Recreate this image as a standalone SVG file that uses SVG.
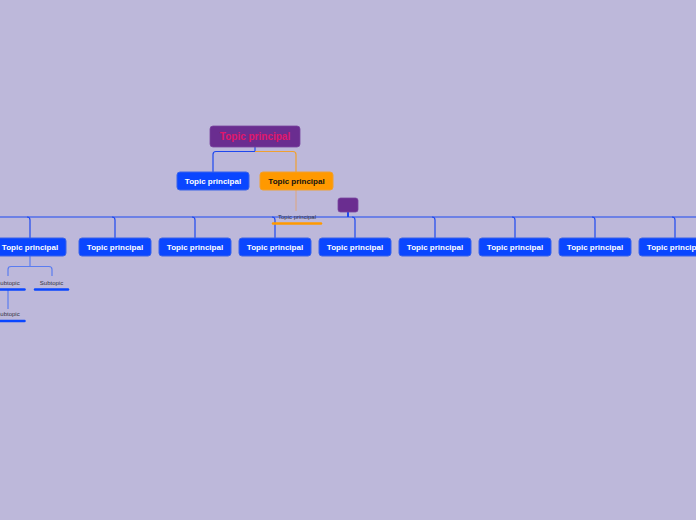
<svg xmlns="http://www.w3.org/2000/svg" width="696" height="520" viewBox="0 0 696 520">
<style>
.t{font-family:"Liberation Sans",Arial,sans-serif;font-weight:bold;font-size:8px;text-anchor:middle}
.w{fill:#ffffff}
.bn{fill:#0a46ff;stroke:#3b63e8;stroke-width:1}
.c{fill:none;stroke:#1d48f0;stroke-width:1.2}
.cs{fill:none;stroke:#5a7cf0;stroke-width:1.2}
.st{font-family:"Liberation Sans",Arial,sans-serif;font-size:6px;text-anchor:middle;fill:#333344}
.ul{stroke:#0a46ff;stroke-width:2.5;stroke-linecap:round}
</style>
<rect width="696" height="520" fill="#bdb8da"/>
<g id="connectors">
<path d="M255 147 V151.5 H216 Q213 151.5 213 154.5 V172" class="c"/>
<path d="M255 151.5 H293 Q296 151.5 296 154.5 V172" fill="none" stroke="#f0a030" stroke-width="1.2"/>
<path d="M296 190 V211" fill="none" stroke="#d9a88c" stroke-width="1.2"/>
<path d="M348 212 V217" fill="none" stroke="#1d48f0" stroke-width="2"/>
<path d="M0 217 H696" class="c"/>
<path d="M27 217 Q30 217 30 220 V238" class="c"/>
<path d="M112 217 Q115 217 115 220 V238" class="c"/>
<path d="M192 217 Q195 217 195 220 V238" class="c"/>
<path d="M272 217 Q275 217 275 220 V238" class="c"/>
<path d="M352 217 Q355 217 355 220 V238" class="c"/>
<path d="M432 217 Q435 217 435 220 V238" class="c"/>
<path d="M512 217 Q515 217 515 220 V238" class="c"/>
<path d="M592 217 Q595 217 595 220 V238" class="c"/>
<path d="M672 217 Q675 217 675 220 V238" class="c"/>
<path d="M30 256 V266.5 H11 Q8 266.5 8 269.5 V276" class="cs"/>
<path d="M30 266.5 H49 Q52 266.5 52 269.5 V276" class="cs"/>
<path d="M8 290 V309" class="cs"/>
</g>
<g id="root">
<rect x="210" y="126" width="90" height="21" rx="3" fill="#6a2d90" stroke="#7a45a0" stroke-width="0.8"/>
<text x="255" y="140" class="t" font-size="10" style="font-size:10px" fill="#e0176a">Topic principal</text>
</g>
<g id="n-blue-top">
<rect x="177" y="172" width="72" height="18" rx="3" class="bn"/>
<text x="213" y="184" class="t w">Topic principal</text>
</g>
<g id="n-orange-top">
<rect x="260" y="172" width="73" height="18" rx="3" fill="#ff9900" stroke="#f0a030" stroke-width="1"/>
<text x="296.5" y="184" class="t" fill="#111111">Topic principal</text>
</g>
<g id="n-orange-sub">
<text x="297" y="218.5" class="st">Topic principal</text>
<line x1="273" y1="223.5" x2="321" y2="223.5" stroke="#ff9900" stroke-width="2.5" stroke-linecap="round"/>
</g>
<g id="n-purple-small">
<rect x="338" y="198" width="20" height="14" rx="2.5" fill="#6a2d90" stroke="#7a45a0" stroke-width="0.8"/>
</g>
<g id="n1"><rect x="-6" y="238" width="72" height="18" rx="3" class="bn"/><text x="30" y="250" class="t w">Topic principal</text></g>
<g id="n2"><rect x="79" y="238" width="72" height="18" rx="3" class="bn"/><text x="115" y="250" class="t w">Topic principal</text></g>
<g id="n3"><rect x="159" y="238" width="72" height="18" rx="3" class="bn"/><text x="195" y="250" class="t w">Topic principal</text></g>
<g id="n4"><rect x="239" y="238" width="72" height="18" rx="3" class="bn"/><text x="275" y="250" class="t w">Topic principal</text></g>
<g id="n5"><rect x="319" y="238" width="72" height="18" rx="3" class="bn"/><text x="355" y="250" class="t w">Topic principal</text></g>
<g id="n6"><rect x="399" y="238" width="72" height="18" rx="3" class="bn"/><text x="435" y="250" class="t w">Topic principal</text></g>
<g id="n7"><rect x="479" y="238" width="72" height="18" rx="3" class="bn"/><text x="515" y="250" class="t w">Topic principal</text></g>
<g id="n8"><rect x="559" y="238" width="72" height="18" rx="3" class="bn"/><text x="595" y="250" class="t w">Topic principal</text></g>
<g id="n9"><rect x="639" y="238" width="72" height="18" rx="3" class="bn"/><text x="675" y="250" class="t w">Topic principal</text></g>
<g id="s1"><text x="8" y="285" class="st">Subtopic</text><line x1="-2" y1="289.5" x2="24.5" y2="289.5" class="ul"/></g>
<g id="s2"><text x="51.5" y="285" class="st">Subtopic</text><line x1="35" y1="289.5" x2="68" y2="289.5" class="ul"/></g>
<g id="s3"><text x="8" y="316" class="st">Subtopic</text><line x1="-2" y1="321" x2="24.5" y2="321" class="ul"/></g>
</svg>
